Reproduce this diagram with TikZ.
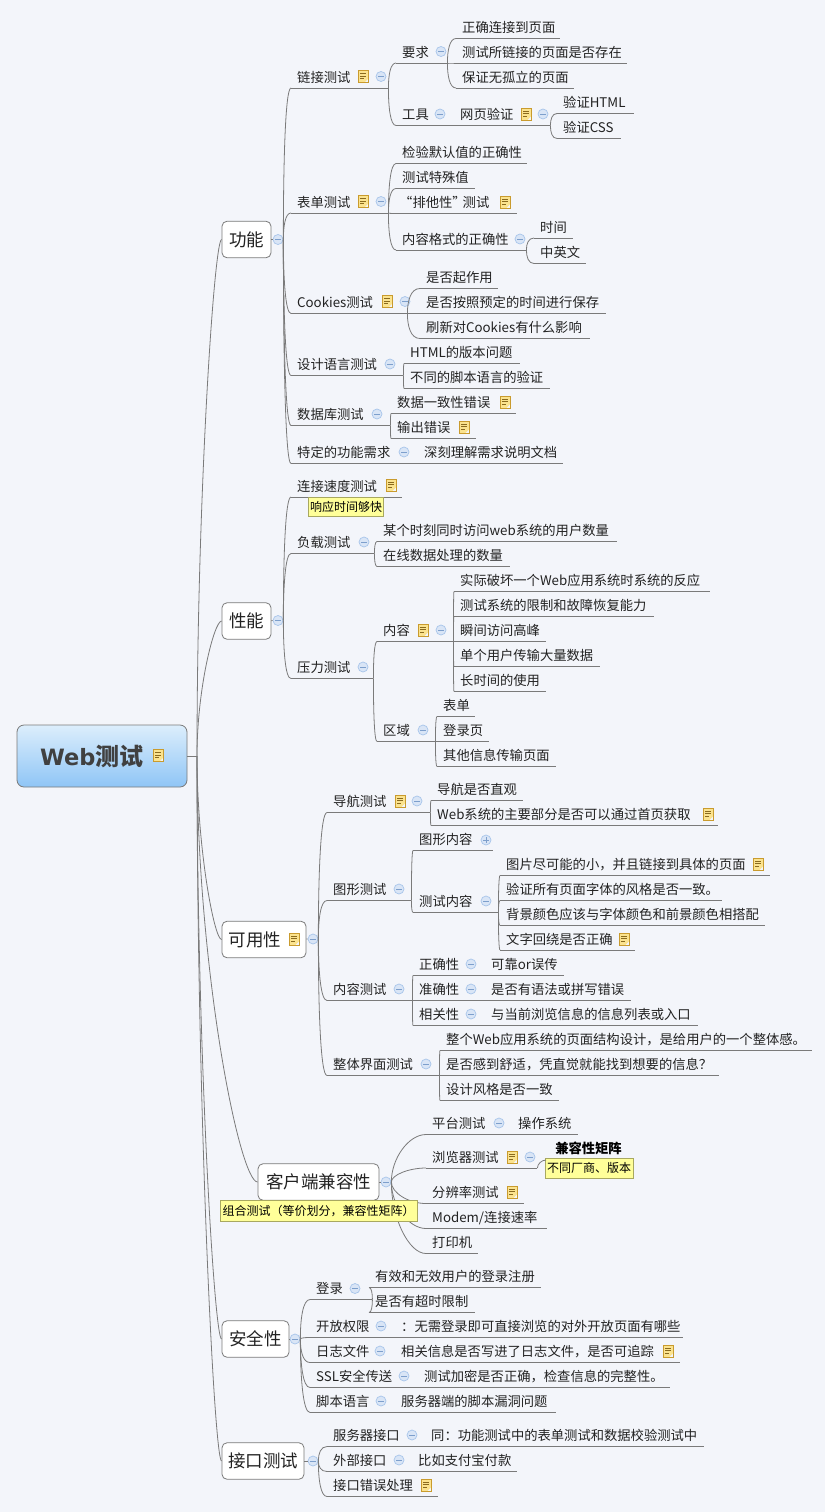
\documentclass[tikz,border=0pt]{standalone}
\usepackage{fontspec}
\setmainfont{Noto Sans CJK SC}
\newfontfamily\rootlatin{DejaVu Sans}
\usetikzlibrary{calc}

\definecolor{pagebg}{HTML}{F3F5FA}
\definecolor{inkgray}{HTML}{222222}
\definecolor{wiregray}{HTML}{7A7A7A}
\definecolor{minusfill}{HTML}{D9E5F6}
\definecolor{minusline}{HTML}{A8C5EA}
\definecolor{minusbar}{HTML}{7D9FCC}
\definecolor{notefill}{HTML}{FBE38E}
\definecolor{noteline}{HTML}{C99B2E}
\definecolor{notebar}{HTML}{8A6A1E}
\definecolor{memofill}{HTML}{FFFF99}
\definecolor{memoline}{HTML}{A8A860}
\definecolor{roottop}{HTML}{DCEEFC}
\definecolor{rootbot}{HTML}{8FC5F6}

\tikzset{
  branch/.style={draw=wiregray, line width=0.8pt},
  topic/.style={anchor=south west, inner xsep=6pt, inner ysep=0pt, minimum height=21pt,
    text width=#1pt, align=left, text=inkgray, font=\fontsize{13.3}{16}\selectfont,
    append after command={(\tikzlastnode.south west) edge [branch] (\tikzlastnode.south east)}},
  boxed/.style={draw=wiregray, fill=white, rounded corners=5pt, line width=0.8pt, inner sep=0pt,
    minimum height=36.5pt, text=inkgray, font=\fontsize{17.5}{20}\selectfont},
  minus/.style={circle, draw=minusline, fill=minusfill, line width=0.7pt, inner sep=0pt, minimum size=10pt,
    path picture={\draw [minusbar, line width=0.7pt] ($(path picture bounding box.center)+(-3,0)$) -- +(6,0);}},
  plus/.style={minus,
    path picture={\draw [minusbar, line width=0.7pt] ($(path picture bounding box.center)+(-3,0)$) -- +(6,0)
      ($(path picture bounding box.center)+(0,-3)$) -- +(0,6);}},
  note/.style={rectangle, draw=noteline, fill=notefill, line width=0.8pt, inner sep=0pt,
    minimum width=10pt, minimum height=12pt,
    path picture={\draw [notebar, line width=0.6pt]
      ($(path picture bounding box.north west)+(2,3)$) -- +(6,0) ++(0,2.5) -- +(6,0) ++(0,2.5) -- +(4,0);
      \fill [pagebg] (path picture bounding box.south east) -- +(-3.5,0) -- +(0,-3.5) -- cycle;}},
  memo/.style={draw=memoline, fill=memofill, line width=0.7pt, inner xsep=1.5pt, inner ysep=0pt,
    text=black, font=\fontsize{12}{14}\selectfont}
}

\newcommand{\lnk}[3][.75]{\draw [branch] (#2) .. controls ($(#2)!.5!(#2 |- #3)$) and ($(#3)!#1!(#2 |- #3)$) .. (#3);}
\newcommand{\trunk}[2]{\draw [branch] (#1) .. controls ($(#1)!.5!(#1 |- #2)$) and ($(#2)!.3!(#1 |- #2)$) .. (#2);}
\newcommand{\zhcomma}{\char"FF0C }
\newcommand{\zhcolon}{\char"FF1A }
\newcommand{\zhopen}{\char"FF08 }
\newcommand{\zhclose}{\char"FF09 }
\newcommand{\zhquery}{\char"FF1F }

\begin{document}
\begin{tikzpicture}
    [x=1pt, y=-1pt]

    \fill [pagebg] (0,0) rectangle (825,1512);
    \useasboundingbox (0,0) rectangle (825,1512);

    \node [draw=wiregray, line width=0.8pt, rounded corners=7pt, top color=roottop, bottom color=rootbot,
           minimum width=170pt, minimum height=62pt, inner sep=0pt] at (102,756) (root) {};
    \node [anchor=west, inner sep=0pt, text=black!75, font=\fontsize{24}{28}\selectfont\bfseries] at (40,756.5) (roottxt) {{\rootlatin\fontsize{22.5}{28}\selectfont Web}测试};
    \node [note] at (158,755.5) (kroot) {};
    \coordinate (hub) at (197,756);

    \node [boxed, minimum width=49pt] at (246.5,239.5) (fn) {功能};
    \node [minus] at (278,239.5) (mfn) {};
    \node [boxed, minimum width=49pt] at (246.5,621) (pf) {性能};
    \node [minus] at (278,620.5) (mpf) {};
    \node [boxed, minimum width=84pt] at (264,939.5) (ux) {可用性\rule{18pt}{0pt}};
    \node [note] at (294,939) (kux) {};
    \node [minus] at (313,939) (mux) {};
    \node [boxed, minimum width=121pt] at (318.5,1182) (cl) {客户端兼容性};
    \node [minus] at (386,1182) (mcl) {};
    \node [boxed, minimum width=67pt] at (255.5,1339) (se) {安全性};
    \node [minus] at (295,1339) (mse) {};
    \node [boxed, minimum width=82pt] at (263,1461) (ap) {接口测试};
    \node [minus] at (313,1461) (map) {};

    \node [topic=85] at (291,88) (fn1) {链接测试};
    \node [note] at (363,76.5) (kfn1) {};
    \node [minus] at (381,76.5) (mfn1) {};
    \node [topic=39] at (396,63) (fn1a) {要求};
    \node [minus] at (441,51.5) (mfn1a) {};
    \node [topic=92] at (456,38.5) (fn1a1) {正确连接到页面};
    \node [topic=159] at (456,63) (fn1a2) {测试所链接的页面是否存在};
    \node [topic=106] at (456,88) (fn1a3) {保证无孤立的页面};
    \node [topic=46] at (396,125.5) (fn1b) {工具};
    \node [minus] at (440,114) (mfn1b) {};
    \node [topic=84] at (454,125.5) (fn1c) {网页验证};
    \node [note] at (526,114) (kfn1c) {};
    \node [minus] at (543,114) (mfn1c) {};
    \node [topic=65] at (557,113.5) (fn1c1) {验证HTML};
    \node [topic=52] at (557,138.5) (fn1c2) {验证CSS};

    \node [topic=85] at (291,213) (fn2) {表单测试};
    \node [note] at (363,201.5) (kfn2) {};
    \node [minus] at (381,201.5) (mfn2) {};
    \node [topic=119] at (396,163.5) (fn2a) {检验默认值的正确性};
    \node [topic=67] at (396,188.5) (fn2b) {测试特殊值};
    \node [topic=109] at (396,213.5) (fn2c) {\kern-3pt“排他性”\kern-3pt测试};
    \node [note] at (505,202) (kfn2c) {};
    \node [topic=118] at (396,250) (fn2d) {内容格式的正确性};
    \node [minus] at (520,239) (mfn2d) {};
    \node [topic=27] at (534,238) (fn2d1) {时间};
    \node [topic=40] at (534,263.5) (fn2d2) {中英文};

    \node [topic=104] at (291,313.5) (fn3) {Cookies测试};
    \node [note] at (387,301.5) (kfn3) {};
    \node [minus] at (405,301.5) (mfn3) {};
    \node [topic=66] at (420,288.5) (fn3a) {是否起作用};
    \node [topic=174] at (420,313.5) (fn3b) {是否按照预定的时间进行保存};
    \node [topic=158] at (420,338.5) (fn3c) {刷新对Cookies有什么影响};

    \node [topic=100] at (291,375.5) (fn4) {设计语言测试};
    \node [minus] at (390,364) (mfn4) {};
    \node [topic=104] at (404,363.5) (fn4a) {HTML的版本问题};
    \node [topic=134] at (404,388.5) (fn4b) {不同的脚本语言的验证};

    \node [topic=87] at (291,425.5) (fn5) {数据库测试};
    \node [minus] at (377,414) (mfn5) {};
    \node [topic=113] at (391,413.5) (fn5a) {数据一致性错误};
    \node [note] at (505,402) (kfn5a) {};
    \node [topic=73] at (391,438.5) (fn5b) {输出错误};
    \node [note] at (464,427) (kfn5b) {};

    \node [topic=118] at (291,463.5) (fn6) {特定的功能需求};
    \node [minus] at (404,452) (mfn6) {};
    \node [topic=133] at (418,463.5) (fn6a) {深刻理解需求说明文档};

    \node [topic=99] at (291,497) (pf1) {连接速度测试};
    \node [note] at (391,485) (kpf1) {};
    \node [topic=71] at (291,553.5) (pf2) {负载测试};
    \node [minus] at (364,542) (mpf2) {};
    \node [topic=228] at (377,541.5) (pf2a) {某个时刻同时访问web系统的用户数量};
    \node [topic=121] at (377,566.5) (pf2b) {在线数据处理的数量};
    \node [topic=70] at (291,678.5) (pf3) {压力测试};
    \node [minus] at (363,667) (mpf3) {};
    \node [topic=64] at (377,641.5) (pf3a) {内容};
    \node [note] at (423,630) (kpf3a) {};
    \node [minus] at (441,630) (mpf3a) {};
    \node [topic=244] at (454,591.5) (pf3a1) {实际破坏一个Web应用系统时系统的反应};
    \node [topic=188] at (454,616.5) (pf3a2) {测试系统的限制和故障恢复能力};
    \node [topic=80] at (454,641.5) (pf3a3) {瞬间访问高峰};
    \node [topic=134] at (454,666.5) (pf3a4) {单个用户传输大量数据};
    \node [topic=80] at (454,691.5) (pf3a5) {长时间的使用};
    \node [topic=46] at (377,741.5) (pf3b) {区域};
    \node [minus] at (423,730) (mpf3b) {};
    \node [topic=26] at (437,716.5) (pf3b1) {表单};
    \node [topic=40] at (437,741.5) (pf3b2) {登录页};
    \node [topic=107] at (437,766.5) (pf3b3) {其他信息传输页面};

    \node [topic=91] at (327,812.5) (ux1) {导航测试};
    \node [note] at (400,801) (kux1) {};
    \node [minus] at (417,801) (mux1) {};
    \node [topic=80] at (431,800.5) (ux1a) {导航是否直观};
    \node [topic=275] at (431,825.5) (ux1b) {Web系统的主要部分是否可以通过首页获取};
    \node [note] at (708,814) (kux1b) {};
    \node [topic=72] at (327,900.5) (ux2) {图形测试};
    \node [minus] at (399,889) (mux2) {};
    \node [topic=68] at (413,850.5) (ux2a) {图形内容};
    \node [plus] at (486,840) (pux2a) {};
    \node [topic=73] at (413,912.5) (ux2b) {测试内容};
    \node [minus] at (486,901) (mux2b) {};
    \node [topic=258] at (500,875.5) (ux2b1) {图片尽可能的小\zhcomma 并且链接到具体的页面};
    \node [note] at (758,864) (kux2b1) {};
    \node [topic=210] at (500,900.5) (ux2b2) {验证所有页面字体的风格是否一致。};
    \node [topic=253] at (500,925.5) (ux2b3) {背景颜色应该与字体颜色和前景颜色相搭配};
    \node [topic=123] at (500,950) (ux2b4) {文字回绕是否正确};
    \node [note] at (624,939) (kux2b4) {};
    \node [topic=73] at (327,1000.5) (ux3) {内容测试};
    \node [minus] at (399,989) (mux3) {};
    \node [topic=60] at (413,975.5) (ux3a) {正确性};
    \node [minus] at (471,964) (mux3a) {};
    \node [topic=67] at (485,975.5) (ux3a1) {可靠or误传};
    \node [topic=60] at (413,1000.5) (ux3b) {准确性};
    \node [minus] at (471,989) (mux3b) {};
    \node [topic=134] at (485,1000.5) (ux3b1) {是否有语法或拼写错误};
    \node [topic=60] at (413,1025.5) (ux3c) {相关性};
    \node [minus] at (471,1014) (mux3c) {};
    \node [topic=201] at (485,1025.5) (ux3c1) {与当前浏览信息的信息列表或入口};
    \node [topic=100] at (327,1075.5) (ux4) {整体界面测试};
    \node [minus] at (426,1064) (mux4) {};
    \node [topic=360] at (440,1050.5) (ux4a) {整个Web应用系统的页面结构设计\zhcomma 是给用户的一个整体感。};
    \node [topic=267] at (440,1075.5) (ux4b) {是否感到舒适\zhcomma 凭直觉就能找到想要的信息\zhquery};
    \node [topic=107] at (440,1100.5) (ux4c) {设计风格是否一致};

    \node [topic=74] at (426,1134.5) (cl1) {平台测试};
    \node [minus] at (499,1123) (mcl1) {};
    \node [topic=54] at (512,1134.5) (cl1a) {操作系统};
    \node [topic=99] at (426,1168) (cl2) {浏览器测试};
    \node [note] at (512,1157) (kcl2) {};
    \node [minus] at (530,1157) (mcl2) {};
    \node [topic=86] at (426,1203.5) (cl3) {分辨率测试};
    \node [note] at (512,1192) (kcl3) {};
    \node [topic=109] at (426,1228.5) (cl4) {Modem/连接速率};
    \node [topic=40] at (426,1253.5) (cl5) {打印机};

    \node [topic=50] at (310,1299.5) (se1) {登录};
    \node [minus] at (355,1288.5) (mse1) {};
    \node [topic=160] at (369,1287.5) (se1a) {有效和无效用户的登录注册};
    \node [topic=94] at (369,1312.5) (se1b) {是否有超时限制};
    \node [topic=73] at (310,1337.5) (se2) {开放权限};
    \node [minus] at (381,1326) (mse2) {};
    \node [topic=276] at (395,1337.5) (se2a) {\zhcolon 无需登录即可直接浏览的对外开放页面有哪些};
    \node [topic=73] at (310,1362.5) (se3) {日志文件};
    \node [minus] at (380,1351) (mse3) {};
    \node [topic=273] at (395,1362.5) (se3a) {相关信息是否写进了日志文件\zhcomma 是否可追踪};
    \node [note] at (668,1351) (kse3a) {};
    \node [topic=96] at (310,1387.5) (se4) {SSL安全传送};
    \node [minus] at (404,1376) (mse4) {};
    \node [topic=240] at (418,1387.5) (se4a) {测试加密是否正确\zhcomma 检查信息的完整性。};
    \node [topic=73] at (310,1412.5) (se5) {脚本语言};
    \node [minus] at (381,1401) (mse5) {};
    \node [topic=149] at (395,1412.5) (se5a) {服务器端的脚本漏洞问题};

    \node [topic=87] at (327,1446.5) (ap1) {服务器接口};
    \node [minus] at (412,1435) (map1) {};
    \node [topic=267] at (425,1446.5) (ap1a) {同\zhcolon 功能测试中的表单测试和数据校验测试中};
    \node [topic=73] at (327,1471.5) (ap2) {外部接口};
    \node [minus] at (399,1460) (map2) {};
    \node [topic=93] at (412,1471.5) (ap2a) {比如支付宝付款};
    \node [topic=99] at (327,1496.5) (ap3) {接口错误处理};
    \node [note] at (426,1485) (kap3) {};

    \draw [branch] (root) -- (hub);
    \trunk{hub}{fn.west}
    \trunk{hub}{pf.west}
    \trunk{hub}{ux.west}
    \trunk{hub}{cl.west}
    \trunk{hub}{se.west}
    \trunk{hub}{ap.west}

    \draw [branch] (fn) -- (mfn);
    \draw [branch] (pf) -- (mpf);
    \draw [branch] (ux) -- (mux);
    \draw [branch] (cl) -- (mcl);
    \draw [branch] (se) -- (mse);
    \draw [branch] (ap) -- (map);

    \lnk{mfn.east}{fn1.south west}
    \lnk{mfn.east}{fn2.south west}
    \lnk{mfn.east}{fn3.south west}
    \lnk{mfn.east}{fn4.south west}
    \lnk{mfn.east}{fn5.south west}
    \lnk{mfn.east}{fn6.south west}
    \lnk{fn1.south east}{fn1a.south west}
    \lnk{fn1.south east}{fn1b.south west}
    \lnk{fn1a.south east}{fn1a1.south west}
    \lnk{fn1a.south east}{fn1a2.south west}
    \lnk{fn1a.south east}{fn1a3.south west}
    \lnk{fn1b.south east}{fn1c.south west}
    \lnk{fn1c.south east}{fn1c1.south west}
    \lnk{fn1c.south east}{fn1c2.south west}
    \lnk{fn2.south east}{fn2a.south west}
    \lnk{fn2.south east}{fn2b.south west}
    \lnk{fn2.south east}{fn2c.south west}
    \lnk{fn2.south east}{fn2d.south west}
    \lnk{fn2d.south east}{fn2d1.south west}
    \lnk{fn2d.south east}{fn2d2.south west}
    \lnk{fn3.south east}{fn3a.south west}
    \lnk{fn3.south east}{fn3b.south west}
    \lnk{fn3.south east}{fn3c.south west}
    \lnk{fn4.south east}{fn4a.south west}
    \lnk{fn4.south east}{fn4b.south west}
    \lnk{fn5.south east}{fn5a.south west}
    \lnk{fn5.south east}{fn5b.south west}
    \lnk{fn6.south east}{fn6a.south west}

    \lnk{mpf.east}{pf1.south west}
    \lnk{mpf.east}{pf2.south west}
    \lnk{mpf.east}{pf3.south west}
    \lnk{pf2.south east}{pf2a.south west}
    \lnk{pf2.south east}{pf2b.south west}
    \lnk{pf3.south east}{pf3a.south west}
    \lnk{pf3.south east}{pf3b.south west}
    \lnk{pf3a.south east}{pf3a1.south west}
    \lnk{pf3a.south east}{pf3a2.south west}
    \lnk{pf3a.south east}{pf3a3.south west}
    \lnk{pf3a.south east}{pf3a4.south west}
    \lnk{pf3a.south east}{pf3a5.south west}
    \lnk{pf3b.south east}{pf3b1.south west}
    \lnk{pf3b.south east}{pf3b2.south west}
    \lnk{pf3b.south east}{pf3b3.south west}

    \lnk{mux.east}{ux1.south west}
    \lnk{mux.east}{ux2.south west}
    \lnk{mux.east}{ux3.south west}
    \lnk{mux.east}{ux4.south west}
    \lnk{ux1.south east}{ux1a.south west}
    \lnk{ux1.south east}{ux1b.south west}
    \lnk{ux2.south east}{ux2a.south west}
    \lnk{ux2.south east}{ux2b.south west}
    \lnk{ux2b.south east}{ux2b1.south west}
    \lnk{ux2b.south east}{ux2b2.south west}
    \lnk{ux2b.south east}{ux2b3.south west}
    \lnk{ux2b.south east}{ux2b4.south west}
    \lnk{ux3.south east}{ux3a.south west}
    \lnk{ux3.south east}{ux3b.south west}
    \lnk{ux3.south east}{ux3c.south west}
    \lnk{ux3a.south east}{ux3a1.south west}
    \lnk{ux3b.south east}{ux3b1.south west}
    \lnk{ux3c.south east}{ux3c1.south west}
    \lnk{ux4.south east}{ux4a.south west}
    \lnk{ux4.south east}{ux4b.south west}
    \lnk{ux4.south east}{ux4c.south west}

    \lnk[.5]{mcl.east}{cl1.south west}
    \lnk[.5]{mcl.east}{cl2.south west}
    \lnk[.5]{mcl.east}{cl3.south west}
    \lnk[.5]{mcl.east}{cl4.south west}
    \lnk[.5]{mcl.east}{cl5.south west}
    \lnk{cl1.south east}{cl1a.south west}

    \lnk{mse.east}{se1.south west}
    \lnk{mse.east}{se2.south west}
    \lnk{mse.east}{se3.south west}
    \lnk{mse.east}{se4.south west}
    \lnk{mse.east}{se5.south west}
    \lnk{se1.south east}{se1a.south west}
    \lnk{se1.south east}{se1b.south west}
    \lnk{se2.south east}{se2a.south west}
    \lnk{se3.south east}{se3a.south west}
    \lnk{se4.south east}{se4a.south west}
    \lnk{se5.south east}{se5a.south west}

    \lnk{map.east}{ap1.south west}
    \lnk{map.east}{ap2.south west}
    \lnk{map.east}{ap3.south west}
    \lnk{ap1.south east}{ap1a.south west}
    \lnk{ap2.south east}{ap2a.south west}

    \node [memo, minimum width=74pt, minimum height=19pt] at (346,506.5) (memopf) {响应时间够快};
    \node [memo, minimum width=197pt, minimum height=21pt] at (318.5,1210.5) (memocl) {组合测试\zhopen 等价划分\zhcomma 兼容性矩阵\zhclose};
    \node [memo, minimum width=88pt, minimum height=20pt] at (589,1168) (memobr) {不同厂商、版本};
    \node [inner sep=0pt, text=black, font=\fontsize{13.3}{16}\selectfont\bfseries] at (588.5,1148) (brhead) {兼容性矩阵};
    \coordinate (brend) at (546,1160);
    \lnk[.5]{cl2.south east}{brend}

\end{tikzpicture}
\end{document}
